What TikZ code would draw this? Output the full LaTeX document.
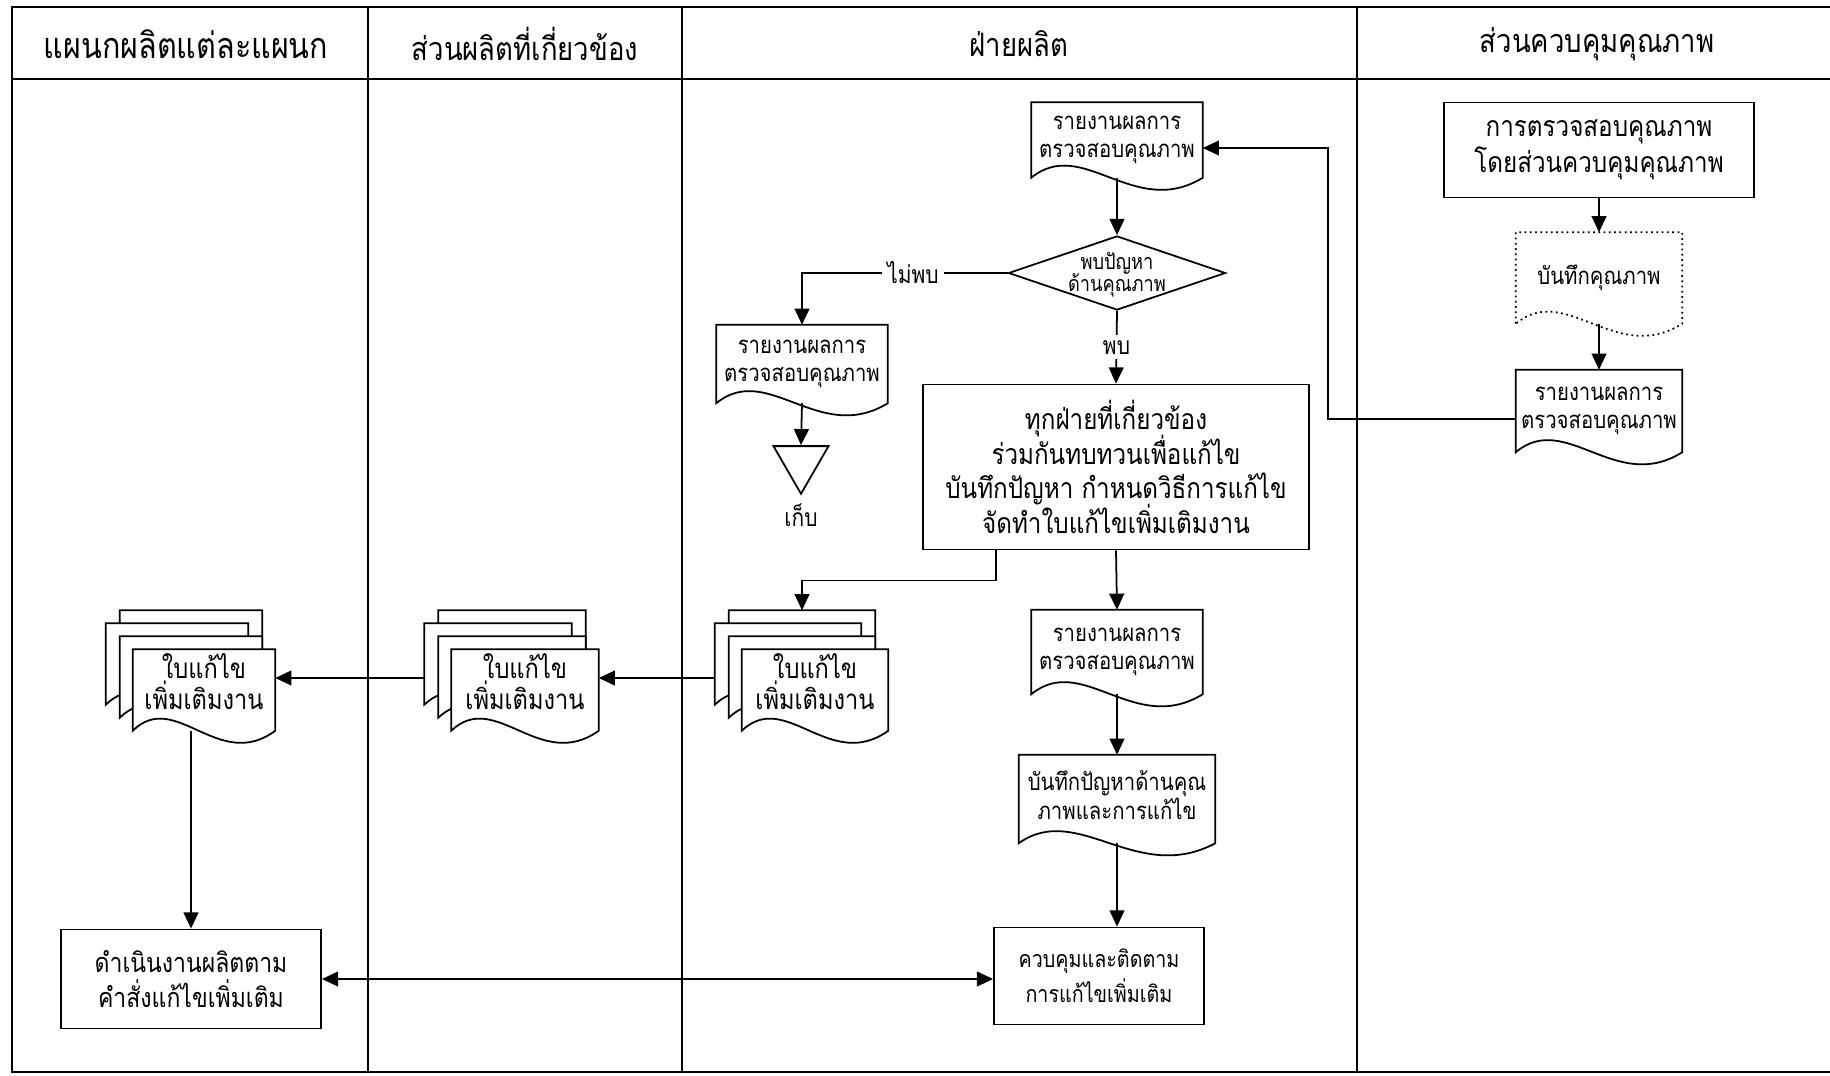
\documentclass[tikz,border=0pt]{standalone}
\usepackage{fontspec}
\newfontfamily\thaifnt[Script=Thai,FakeStretch=0.85]{Loma}
\usetikzlibrary{shapes.geometric,arrows.meta,calc}
\pgfdeclarelayer{sheets}
\pgfsetlayers{sheets,main}

% Thai text at a given size and fixed line pitch (tall marks must not push lines apart)
\newcommand\thaisize[2]{\thaifnt\fontsize{#1}{#2}\selectfont\lineskiplimit=-20pt\lineskip=0pt\relax}
\newcommand\headfont{\thaisize{9.2}{11}}
\newcommand\docfont{\thaisize{6.8}{8.0}}
\newcommand\stackfont{\thaisize{7.9}{8.8}}
\newcommand\bigfont{\thaisize{8.1}{10.2}}
\newcommand\procfont{\thaisize{8.1}{9.9}}
\newcommand\leftboxfont{\thaisize{7.7}{10}}
\newcommand\ctrlboxfont{\thaisize{6.6}{10}}
\newcommand\diafont{\thaisize{6.1}{6.3}}
\newcommand\lblfont{\thaisize{7}{8}}

\tikzset{
  frame/.style={line width=0.8pt},
  lane/.style={line width=0.5pt},
  docline/.style={draw=black, fill=white, line width=0.5pt},
  docnode/.style={inner sep=0pt, align=center},
  boxnode/.style={draw, fill=white, line width=0.5pt, inner sep=0pt, align=center},
  link/.style={line width=0.5pt},
  tip/.tip={Triangle[length=4.6pt,width=4.2pt]},
  arr/.style={line width=0.5pt, -tip},
  dblarr/.style={line width=0.5pt, tip-tip},
  lbl/.style={fill=white, inner sep=1.5pt, font=\lblfont},
}

% document symbol: straight top and sides, wavy bottom edge
\newcommand\docoutline[2][]{%
  \begin{pgfonlayer}{sheets}
    \draw[docline,#1] (#2.south west) -- (#2.north west) -- (#2.north east) -- (#2.south east)
      .. controls ($(#2.south east)!0.4!(#2.south west)+(0,42)$)
         and ($(#2.south east)!0.7!(#2.south west)+(0,-42)$) .. (#2.south west) -- cycle;
  \end{pgfonlayer}}

% stack of several documents: front sheet #1 plus three sheets behind it
\newcommand\docstack[5]{%
  \node[docnode, minimum width=#4, minimum height=0.80cm, text depth=0.17cm, font=\stackfont] (#1) at (#2,#3) {#5};
  \node[docnode, minimum width=#4, minimum height=0.80cm] (#1a) at ($(#1)+(-13,-39)$) {};
  \node[docnode, minimum width=#4, minimum height=0.80cm] (#1b) at ($(#1)+(-27,-26)$) {};
  \node[docnode, minimum width=#4, minimum height=0.80cm] (#1c) at ($(#1)+(-13,-13)$) {};
  \docoutline{#1a}\docoutline{#1b}\docoutline{#1c}\docoutline{#1}}

\begin{document}
\begin{tikzpicture}[x=0.01cm, y=-0.01cm]
\clip (0,0) rectangle (1830,1075);
\begin{pgfonlayer}{sheets}
  \fill[white] (0,0) rectangle (1830,1075);
\end{pgfonlayer}

% swimlane frame
\draw[frame] (1845,7) -- (12,7) -- (12,1072) -- (1845,1072);
\draw[frame] (12,79) -- (1845,79);
\draw[lane] (368,7) -- (368,1072);
\draw[lane] (682,7) -- (682,1072);
\draw[lane] (1357,7) -- (1357,1072);

\node[font=\thaisize{10.2}{11}] (h1) at (186,44) {แผนกผลิตแต่ละแผนก};
\node[font=\headfont] (h2) at (525,44) {ส่วนผลิตที่เกี่ยวข้อง};
\node[font=\headfont] (h3) at (1019,44) {ฝ่ายผลิต};
\node[font=\headfont] (h4) at (1597,44) {ส่วนควบคุมคุณภาพ};

% production department lane
\node[docnode, minimum width=1.70cm, minimum height=0.74cm, font=\docfont] (d1) at (1117,140) {รายงานผลการ\\ตรวจสอบคุณภาพ};
\docoutline{d1}
\node[draw, diamond, fill=white, line width=0.5pt, inner sep=0pt, minimum width=2.17cm, minimum height=0.74cm,
      label={[align=center, font=\diafont, yshift=-0.02cm]center:{พบปัญหา\\ด้านคุณภาพ}}] (dia) at (1117,273) {};
\node[docnode, minimum width=1.70cm, minimum height=0.77cm, font=\docfont] (d2) at (802,364) {รายงานผลการ\\ตรวจสอบคุณภาพ};
\docoutline{d2}
\node[draw, regular polygon, regular polygon sides=3, shape border rotate=180, minimum size=0.635cm, inner sep=0pt, line width=0.5pt] (tri) at (801,462) {};
\node[font=\lblfont] (keep) at (801,515) {เก็บ};
\node[boxnode, minimum width=3.86cm, minimum height=1.65cm, font=\procfont] (b1) at (1116,467) {ทุกฝ่ายที่เกี่ยวข้อง\\ร่วมกันทบทวนเพื่อแก้ไข\\บันทึกปัญหา กำหนดวิธีการแก้ไข\\จัดทำใบแก้ไขเพิ่มเติมงาน};
\docstack{m3}{815}{690}{1.45cm}{ใบแก้ไข\\เพิ่มเติมงาน}
\node[docnode, minimum width=1.70cm, minimum height=0.83cm, font=\docfont] (d4) at (1117,652) {รายงานผลการ\\ตรวจสอบคุณภาพ};
\docoutline{d4}
\node[docnode, minimum width=1.95cm, minimum height=0.87cm, text depth=0.08cm, font=\docfont] (d5) at (1117,799) {บันทึกปัญหาด้านคุณ\\ภาพและการแก้ไข};
\docoutline{d5}
\node[boxnode, minimum width=2.10cm, minimum height=0.97cm, font=\ctrlboxfont] (b5) at (1099,976) {ควบคุมและติดตาม\\การแก้ไขเพิ่มเติม};

% related production units and each production section
\docstack{m2}{525}{690}{1.46cm}{ใบแก้ไข\\เพิ่มเติมงาน}
\docstack{m1}{204}{690}{1.41cm}{ใบแก้ไข\\เพิ่มเติมงาน}
\node[boxnode, minimum width=2.60cm, minimum height=0.99cm, font=\leftboxfont] (b4) at (191,979) {ดำเนินงานผลิตตาม\\คำสั่งแก้ไขเพิ่มเติม};

% quality control lane
\node[boxnode, minimum width=3.10cm, minimum height=0.95cm, font=\bigfont] (b6) at (1599,150) {การตรวจสอบคุณภาพ\\โดยส่วนควบคุมคุณภาพ};
\node[docnode, minimum width=1.65cm, minimum height=0.90cm, font=\docfont] (d6) at (1599,278) {บันทึกคุณภาพ};
\docoutline[densely dotted]{d6}
\node[docnode, minimum width=1.65cm, minimum height=0.81cm, font=\docfont] (d7) at (1599,411) {รายงานผลการ\\ตรวจสอบคุณภาพ};
\docoutline{d7}

% connectors
\draw[arr] (d1.south) -- (dia.north);
\draw[arr] (dia.west) -| node[lbl, pos=0.23] {ไม่พบ} (d2.north);
\draw[arr] (dia.south) -- node[lbl] {พบ} (b1.north);
\draw[arr] (d2.south) -- (tri.north);
\draw[arr] (b1.south) -- (d4.north);
\coordinate (split) at ($(b1.south west)!0.19!(b1.south east)$);
\draw[arr] (split) -- ++(0,30) -| (m3a.north);
\coordinate (m3out) at ($(m3b.west)+(0,14)$);
\draw[arr] (m3out) -- (m3out -| m2.east);
\coordinate (m2out) at ($(m2b.west)+(0,14)$);
\draw[arr] (m2out) -- (m2out -| m1.east);
\draw[arr] (m1.south -| b4.north) -- (b4.north);
\draw[arr] (d4.south) -- (d5.north);
\draw[arr] (d5.south) -- (d5.south |- b5.north);
\draw[dblarr] (b4.east) -- (b4.east -| b5.west);
\draw[arr] (b6.south) -- (d6.north);
\draw[arr] (d6.south) -- (d7.north);
\coordinate (qcout) at ($(d7.west)+(0,8)$);
\coordinate (qcbend) at (1328,0);
\coordinate (d1in) at ($(d1.east)+(0,8)$);
\draw[arr] (qcout) -- (qcout -| qcbend) |- (d1in);
\end{tikzpicture}
\end{document}
